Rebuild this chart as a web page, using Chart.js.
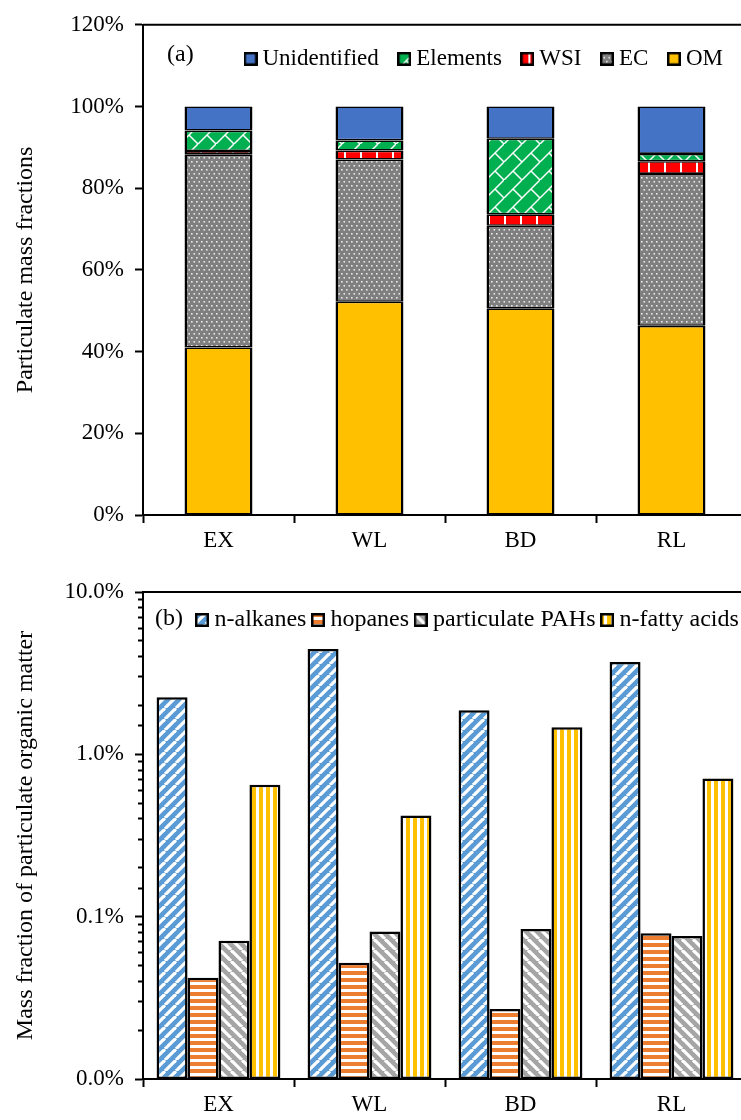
<!DOCTYPE html>
<html><head><meta charset="utf-8">
<script src="https://cdn.jsdelivr.net/npm/chart.js@4.4.1/dist/chart.umd.min.js"></script>
<style>
html,body{margin:0;padding:0;background:#fff;overflow:hidden;width:741px;height:1120px;}
#c1{position:absolute;left:0;top:0;}
#c2{position:absolute;left:0;top:565px;}
</style></head><body>
<canvas id="c1" width="760" height="560"></canvas>
<canvas id="c2" width="760" height="555"></canvas>
<script>
// ---------- data ----------
const categories = ['EX', 'WL', 'BD', 'RL'];
// panel (a): particulate mass fractions, %
const omValues = [41.0, 52.2, 50.6, 46.3];
const ecValues = [47.2, 34.8, 20.2, 37.2];
const wsiValues = [0.9, 2.2, 2.8, 3.1];
const elementValues = [5.0, 2.5, 18.5, 1.8];
const unidentifiedValues = [5.9, 8.3, 7.9, 11.6];
const yTicksA = [0, 20, 40, 60, 80, 100, 120];
// panel (b): mass fraction of particulate organic matter, %
const alkaneValues = [2.25, 4.45, 1.87, 3.7];
const hopaneValues = [0.042, 0.052, 0.027, 0.079];
const pahValues = [0.071, 0.081, 0.084, 0.076];
const fattyAcidValues = [0.65, 0.42, 1.47, 0.71];
const yTicksB = [0.01, 0.1, 1, 10];

// ---------- styles ----------
const FONT = '"Liberation Serif", "Times New Roman", serif';
Chart.defaults.font.family = FONT;
Chart.defaults.color = '#000';

function tile(w, h, draw) {
  const c = document.createElement('canvas'); c.width = w; c.height = h;
  const g = c.getContext('2d'); draw(g, w, h); return c;
}
const patCtx = document.createElement('canvas').getContext('2d');
function pat(c) { return patCtx.createPattern(c, 'repeat'); }
function seg(g, x1, y1, x2, y2) { g.beginPath(); g.moveTo(x1, y1); g.lineTo(x2, y2); g.stroke(); }

const fillUnid = '#4472C4';
const fillOM = '#FFC000';
const fillEC = pat(tile(10, 8, (g, w, h) => {
  g.fillStyle = '#7F7F7F'; g.fillRect(0, 0, w, h);
  g.fillStyle = '#E8E8E8';
  [[1, 1], [6, 1], [3.5, 5], [8.5, 5]].forEach(p => g.fillRect(p[0], p[1], 1.6, 1.6));
}));
const fillEl = pat(tile(36, 36, (g, T) => {
  g.fillStyle = '#00B050'; g.fillRect(0, 0, T, T);
  g.strokeStyle = '#FFFFFF'; g.lineWidth = 1.5;
  const h = T / 2, q = T / 4;
  seg(g, 0, h, h, 0); seg(g, 0, T, T, 0); seg(g, h, T, T, h);
  seg(g, q, q, h, h); seg(g, h + q, h + q, T, T); seg(g, h + q, q, T, h); seg(g, q, h + q, h, T);
}));
const fillWSI = pat(tile(16, 16, (g, w, h) => {
  g.fillStyle = '#FF0000'; g.fillRect(0, 0, w, h);
  g.fillStyle = '#FFFFFF'; g.fillRect(8, 0, 2, h);
}));
const fillAlk = pat(tile(11, 11, (g, S) => {
  g.fillStyle = '#5B9BD5'; g.fillRect(0, 0, S, S);
  g.strokeStyle = '#FFFFFF'; g.lineWidth = 3.2;
  for (let k = -1; k <= 1; k++) seg(g, k * S, S, k * S + S, 0);
}));
const fillPAH = pat(tile(11, 11, (g, S) => {
  g.fillStyle = '#A5A5A5'; g.fillRect(0, 0, S, S);
  g.strokeStyle = '#FFFFFF'; g.lineWidth = 3.2;
  for (let k = -1; k <= 1; k++) seg(g, k * S, 0, k * S + S, S);
}));
const fillHop = pat(tile(4, 7, (g, w, h) => {
  g.fillStyle = '#ED7D31'; g.fillRect(0, 0, w, 4);
  g.fillStyle = '#FFFFFF'; g.fillRect(0, 4, w, 3);
}));
const fillFat = pat(tile(7, 4, (g, w, h) => {
  g.fillStyle = '#FFC000'; g.fillRect(0, 0, 4, h);
  g.fillStyle = '#FFFFFF'; g.fillRect(4, 0, 3, h);
}));

function legendBox(fill) {
  return tile(14, 14, (g, s) => {
    g.fillStyle = fill; g.fillRect(1, 1, s - 2, s - 2);
    g.strokeStyle = '#000'; g.lineWidth = 2.5; g.strokeRect(1.25, 1.25, s - 2.5, s - 2.5);
  });
}

const isMajor = v => Math.abs(Math.log10(v) - Math.round(Math.log10(v))) < 1e-6;

// ---------- plugins ----------
const framePlugin = {
  id: 'frame',
  afterDatasetsDraw(chart) {
    const a = chart.chartArea, ctx = chart.ctx;
    ctx.save(); ctx.strokeStyle = '#000'; ctx.lineWidth = 2;
    ctx.beginPath(); ctx.moveTo(a.left, a.top); ctx.lineTo(a.right, a.top); ctx.lineTo(a.right, a.bottom); ctx.stroke();
    ctx.restore();
  }
};
const panelLabel = {
  id: 'panelLabel',
  afterDraw(chart, args, opts) {
    const a = chart.chartArea, ctx = chart.ctx;
    ctx.save(); ctx.font = '24px ' + FONT; ctx.fillStyle = '#000';
    ctx.textAlign = 'left'; ctx.textBaseline = 'middle';
    ctx.fillText(opts.text, a.left + opts.dx, a.top + opts.dy);
    ctx.restore();
  }
};
// legend drawn in one row inside the plot area
const legendShift = {
  id: 'legendShift',
  beforeLayout(chart) {
    if (chart.legend) chart.legend.isHorizontal = () => true;
  },
  afterLayout(chart, args, opts) {
    const lg = chart.legend, a = chart.chartArea;
    if (!lg) return;
    lg.left = a.left + opts.dx; lg.top = a.top + opts.dy;
    lg.right = lg.left + 2000;
  }
};

function legendOpts(order, padding, size) {
  return {
    position: 'chartArea', align: 'start',
    labels: {
      usePointStyle: true, pointStyleWidth: 1, padding: padding,
      font: { size: size }, color: '#000',
      generateLabels: chart => order.map(i => {
        const ds = chart.data.datasets[i];
        return { text: ds.label, pointStyle: ds.legendBox, fillStyle: 'rgba(0,0,0,0)',
                 strokeStyle: 'rgba(0,0,0,0)', lineWidth: 0, hidden: false, datasetIndex: i };
      })
    }
  };
}

function yAxisCommon(title) {
  return {
    ticks: { font: { size: 23 }, padding: 11 },
    grid: { drawOnChartArea: false, tickLength: 8, tickColor: '#000', tickWidth: 2 },
    border: { color: '#000', width: 2 },
    title: { display: true, text: title, font: { size: 24 }, padding: { top: 11, bottom: 0 } },
    afterFit: s => { s.width = 143; }
  };
}
function xAxis(h, stacked) {
  return {
    stacked: stacked,
    ticks: { font: { size: 23 }, padding: 4 },
    grid: { drawOnChartArea: false, tickLength: 8, tickColor: '#000', tickWidth: 2, offset: true },
    border: { color: '#000', width: 2 },
    afterFit: s => { s.height = h; }
  };
}

// ---------- chart (a) ----------
const bwA = { top: 1.6, bottom: 1.6, left: 2.5, right: 2.5 };
function dsA(label, data, fill) {
  return { label, data, backgroundColor: fill, borderColor: '#000', borderWidth: bwA,
           borderSkipped: false, legendBox: legendBox(fill),
           barPercentage: 0.45, categoryPercentage: 1.0 };
}
const yA = yAxisCommon('Particulate mass fractions');
Object.assign(yA, {
  stacked: true, min: yTicksA[0], max: yTicksA[yTicksA.length - 1],
  afterBuildTicks: s => { s.ticks = yTicksA.map(v => ({ value: v })); }
});
yA.ticks.callback = v => v + '%';

new Chart(document.getElementById('c1'), {
  type: 'bar',
  data: {
    labels: categories,
    datasets: [
      dsA('OM', omValues, fillOM),
      dsA('EC', ecValues, fillEC),
      dsA('WSI', wsiValues, fillWSI),
      dsA('Elements', elementValues, fillEl),
      dsA('Unidentified', unidentifiedValues, fillUnid)
    ]
  },
  options: {
    responsive: false, animation: false, devicePixelRatio: 1,
    layout: { padding: { top: 24, right: 13, left: 0, bottom: 0 } },
    scales: { x: xAxis(45, true), y: yA },
    plugins: {
      legend: legendOpts([4, 3, 2, 1, 0], 25, 23),
      legendShift: { dx: 82, dy: -2.5 },
      panelLabel: { text: '(a)', dx: 24, dy: 30 },
      tooltip: { enabled: false }
    }
  },
  plugins: [framePlugin, panelLabel, legendShift]
});

// ---------- chart (b) ----------
function dsB(label, data, fill) {
  return { label, data, backgroundColor: fill, borderColor: '#000', borderWidth: 2.5,
           borderSkipped: false, legendBox: legendBox(fill),
           barPercentage: 1.0, categoryPercentage: 0.82 };
}
const yB = yAxisCommon('Mass fraction of particulate organic matter');
Object.assign(yB, { type: 'logarithmic', min: yTicksB[0], max: yTicksB[yTicksB.length - 1] });
yB.ticks.autoSkip = false;
yB.ticks.callback = v => (yTicksB.some(t => Math.abs(t - v) < 1e-9) ? v.toFixed(1) + '%' : '');
yB.grid.tickBorderDash = c => (c.tick && !isMajor(c.tick.value) ? [0, 3, 5, 100] : []);

new Chart(document.getElementById('c2'), {
  type: 'bar',
  data: {
    labels: categories,
    datasets: [
      dsB('n-alkanes', alkaneValues, fillAlk),
      dsB('hopanes', hopaneValues, fillHop),
      dsB('particulate PAHs', pahValues, fillPAH),
      dsB('n-fatty acids', fattyAcidValues, fillFat)
    ]
  },
  options: {
    responsive: false, animation: false, devicePixelRatio: 1,
    layout: { padding: { top: 27, right: 13, left: 0, bottom: 0 } },
    scales: { x: xAxis(41, false), y: yB },
    plugins: {
      legend: legendOpts([0, 1, 2, 3], 11, 24),
      legendShift: { dx: 47.5, dy: 5 },
      panelLabel: { text: '(b)', dx: 12, dy: 27 },
      tooltip: { enabled: false }
    }
  },
  plugins: [framePlugin, panelLabel, legendShift]
});
</script>
</body></html>
